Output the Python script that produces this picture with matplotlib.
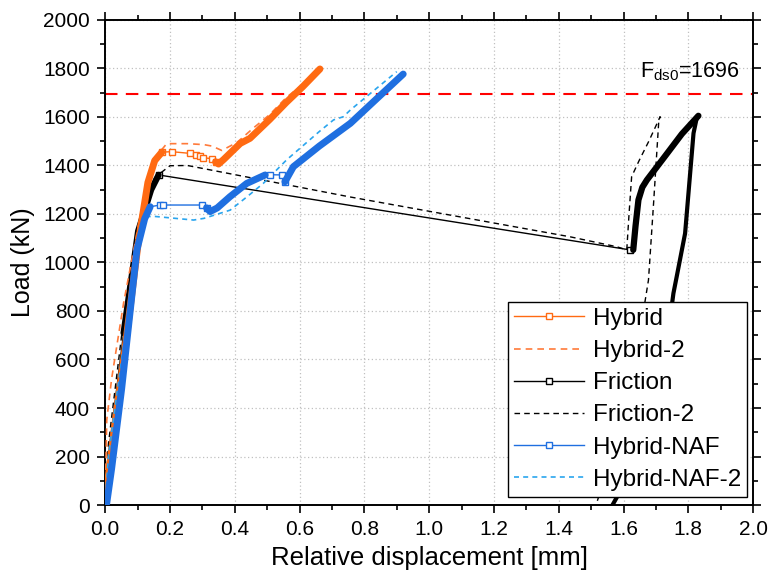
import matplotlib
matplotlib.use("Agg")
import matplotlib.pyplot as plt
from matplotlib.ticker import MultipleLocator

plt.rcParams['font.family'] = ['Liberation Sans', 'DejaVu Sans']
plt.rcParams['mathtext.fontset'] = 'custom'
plt.rcParams['mathtext.rm'] = 'Liberation Sans'

# Load–displacement curves (displacement in mm, load in kN)
hybrid_x = [0, 0.01, 0.03, 0.061, 0.102, 0.132, 0.153, 0.175, 0.205, 0.262, 0.281, 0.293,
            0.303, 0.330, 0.341, 0.350, 0.366, 0.417, 0.447, 0.508, 0.559, 0.610, 0.663]
hybrid_y = [0, 120, 330, 640, 1080, 1330, 1420, 1455, 1457, 1450, 1445, 1440,
            1432, 1428, 1415, 1406, 1425, 1491, 1512, 1590, 1660, 1725, 1798]

hybrid2_x = [0, 0.005, 0.02, 0.057, 0.102, 0.153, 0.190, 0.254, 0.305, 0.330, 0.360,
             0.407, 0.458, 0.508, 0.559, 0.610, 0.671]
hybrid2_y = [0, 350, 520, 833, 1150, 1430, 1490, 1490, 1486, 1480, 1462,
             1495, 1555, 1610, 1680, 1735, 1805]

friction_x = [0, 0.01, 0.057, 0.102, 0.142, 0.165, 1.620, 1.630, 1.637, 1.646, 1.658,
              1.672, 1.729, 1.780, 1.831, 1.825, 1.816, 1.790, 1.764, 1.754, 1.729,
              1.688, 1.637, 1.566]
friction_y = [0, 200, 709, 1130, 1300, 1361, 1052, 1052, 1150, 1258, 1310,
              1340, 1440, 1530, 1605, 1590, 1533, 1120, 941, 873, 620,
              380, 170, 0]

friction2_x = [0, 0.01, 0.051, 0.102, 0.153, 0.200, 0.254, 0.757, 1.435, 1.579, 1.610,
               1.617, 1.625, 1.648, 1.678, 1.713, 1.709, 1.693, 1.677, 1.667, 1.627,
               1.576, 1.515]
friction2_y = [0, 250, 700, 1150, 1350, 1399, 1400, 1270, 1106, 1065, 1052,
               1200, 1354, 1420, 1500, 1601, 1588, 1250, 928, 845, 520,
               250, 0]

naf_x = [0, 0.005, 0.02, 0.051, 0.098, 0.122, 0.139, 0.170, 0.180, 0.298, 0.313,
         0.324, 0.346, 0.385, 0.437, 0.494, 0.509, 0.545, 0.555, 0.581, 0.661, 0.757,
         0.834, 0.920]
naf_y = [0, 8, 150, 480, 1052, 1180, 1230, 1237, 1237, 1237, 1225,
         1210, 1225, 1271, 1326, 1361, 1362, 1361, 1333, 1395, 1480, 1574,
         1670, 1777]

naf2_x = [0, 0.01, 0.051, 0.092, 0.118, 0.153, 0.273, 0.305, 0.386, 0.437, 0.488, 0.560,
          0.661, 0.705, 0.735, 0.757, 0.900]
naf2_y = [0, 200, 600, 1000, 1189, 1190, 1175, 1182, 1216, 1270, 1326, 1423,
          1540, 1588, 1601, 1629, 1787]

design_load = 1696

x_ticks = [0.0, 0.2, 0.4, 0.6, 0.8, 1.0, 1.2, 1.4, 1.6, 1.8, 2.0]
y_ticks = [0, 200, 400, 600, 800, 1000, 1200, 1400, 1600, 1800, 2000]

c_hyb = '#ff6a12'
c_hyb2 = '#ff7a3a'
c_fric = '#000000'
c_naf = '#1f6fe0'
c_naf2 = '#2aa5ee'

fig = plt.figure(figsize=(7.73, 5.81), dpi=100)
ax = fig.add_axes([0.136, 0.1308, 0.8383, 0.8348])


def draw(xs, ys, color, ls, label, marks=None, thick=(), thick_lw=5.0, lw=1.0, z=3):
    ax.plot(xs, ys, color=color, ls=ls, lw=lw, zorder=z,
            marker='s' if marks is not None else None, markersize=4,
            markerfacecolor='white', markeredgecolor=color, markeredgewidth=1.0,
            markevery=marks if marks is not None else None, label=label)
    for a, b in thick:
        ax.plot(xs[a:b + 1], ys[a:b + 1], color=color, ls='-', lw=thick_lw,
                solid_capstyle='round', solid_joinstyle='round', zorder=z)


# red dashed design-load line
ax.axhline(design_load, color='#ff0000', lw=1.5, ls=(0, (6, 4)), zorder=2)
ax.text(1.96, 1762, r'F$_{\rm ds0}$=1696', ha='right', va='baseline',
        fontsize=15.5)

draw(friction2_x, friction2_y, c_fric, (0, (4, 3)), 'Friction-2', lw=1.0, z=3)
draw(friction_x, friction_y, c_fric, '-', 'Friction',
     marks=[5, 6], thick=[(2, 5), (7, 14)], thick_lw=4.5, z=4)
ax.plot(friction_x[14:], friction_y[14:], color=c_fric, lw=3.0, zorder=4)
draw(hybrid2_x, hybrid2_y, c_hyb2, (0, (4, 3)), 'Hybrid-2', lw=1.2, z=5)
draw(hybrid_x, hybrid_y, c_hyb, '-', 'Hybrid',
     marks=list(range(7, 15)), thick=[(0, 7), (14, 22)], z=6)
draw(naf2_x, naf2_y, c_naf2, (0, (3, 2.5)), 'Hybrid-NAF-2', lw=1.2, z=7)
draw(naf_x, naf_y, c_naf, '-', 'Hybrid-NAF',
     marks=[7, 8, 9, 10, 16, 17, 18], thick=[(0, 6), (10, 15), (18, 23)], z=8)

ax.set_xlim(0, 2.0)
ax.set_ylim(0, 2000)
ax.set_xticks(x_ticks)
ax.set_xticklabels([f'{v:.1f}' for v in x_ticks])
ax.set_yticks(y_ticks)
ax.xaxis.set_minor_locator(MultipleLocator(0.1))
ax.yaxis.set_minor_locator(MultipleLocator(100))
ax.tick_params(which='both', direction='out', top=True, right=True,
               labeltop=False, labelright=False, width=1.2, labelsize=15)
ax.tick_params(which='major', length=6, pad=5)
ax.tick_params(which='minor', length=3.5)
for s in ax.spines.values():
    s.set_linewidth(1.4)
ax.grid(True, which='major', ls=(0, (1, 2)), color='#c0c0c0', lw=0.9)
ax.set_axisbelow(True)

ax.set_xlabel('Relative displacement [mm]', fontsize=18.5, labelpad=5)
ax.set_ylabel('Load (kN)', fontsize=18, labelpad=6)

handles, labels = ax.get_legend_handles_labels()
order = ['Hybrid', 'Hybrid-2', 'Friction', 'Friction-2', 'Hybrid-NAF', 'Hybrid-NAF-2']
hmap = dict(zip(labels, handles))
leg = ax.legend([hmap[k] for k in order], order, loc='lower right',
                bbox_to_anchor=(0.991, 0.0165), borderaxespad=0, fontsize=17.5,
                frameon=True, fancybox=False, edgecolor='black', framealpha=1,
                handlelength=2.9, labelspacing=0.42, borderpad=0.25,
                handletextpad=0.35)
leg.get_frame().set_linewidth(1.0)
leg.set_zorder(20)

fig.savefig('out.png', dpi=100)
